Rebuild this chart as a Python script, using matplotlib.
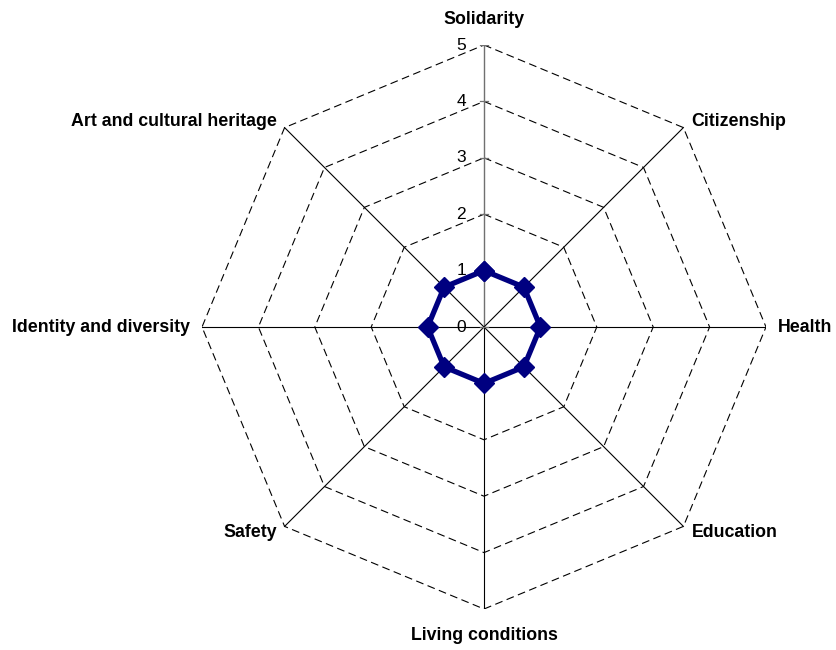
import numpy as np
import matplotlib
matplotlib.use("Agg")
import matplotlib.pyplot as plt

plt.rcParams['font.family'] = ['Liberation Sans', 'DejaVu Sans']

# 8개 항목, 값은 모두 1
categories = ['Solidarity', 'Citizenship', 'Health', 'Education', 'Living conditions',
              'Safety', 'Identity and diversity', 'Art and cultural heritage']
values = [1, 1, 1, 1, 1, 1, 1, 1]
levels = [0, 1, 2, 3, 4, 5]
rmax = 5

fig = plt.figure(figsize=(8.37, 6.5), dpi=100)
W, H = 837, 650
cx, cy, R = 484, 327, 282  # 중심과 반지름(픽셀)
ax = fig.add_axes([(cx - R) / W, (H - cy - R) / H, 2 * R / W, 2 * R / H])
ax.set_xlim(-rmax, rmax)
ax.set_ylim(-rmax, rmax)
ax.axis('off')

n = len(categories)
ang = np.arange(n) * 2 * np.pi / n  # 위쪽부터 시계방향
sx, sy = np.sin(ang), np.cos(ang)

# 점선 다각형 격자
for lv in levels[1:]:
    px = np.append(sx * lv, sx[0] * lv)
    py = np.append(sy * lv, sy[0] * lv)
    ax.plot(px, py, color='black', lw=0.8, ls=(0, (7, 4)), zorder=1)

# 축선
for i in range(n):
    col = '#707070' if i == 0 else 'black'
    ax.plot([0, sx[i] * rmax], [0, sy[i] * rmax], color=col, lw=1.0 if i == 0 else 0.8, zorder=2)

# 세로축 눈금과 라벨
u = rmax / R
for lv in levels:
    ax.plot([-4 * u, 4 * u], [lv, lv], color='#707070', lw=0.9, zorder=2)
    ax.text(-18 * u, lv, str(lv), ha='right', va='center', fontsize=12.5)

# 데이터
vx = np.append(sx * values, sx[0] * values[0])
vy = np.append(sy * values, sy[0] * values[0])
ax.plot(vx, vy, color='#000080', lw=3.8, marker='D', markersize=10.5, zorder=5)

# 항목 라벨
for i, name in enumerate(categories):
    x, y = sx[i] * rmax, sy[i] * rmax
    if abs(sx[i]) < 0.1:
        ha, off = 'center', (0, 25 if sy[i] > 0 else -27)
    elif abs(sy[i]) < 0.1:
        ha, off = ('left' if sx[i] > 0 else 'right'), (12 if sx[i] > 0 else -12, 0)
    else:
        ha = 'left' if sx[i] > 0 else 'right'
        off = (8 if sx[i] > 0 else -8, 6 if sy[i] > 0 else -6)
    ax.annotate(name, (x, y), xytext=(off[0] * 0.72, off[1] * 0.72), textcoords='offset points',
                ha=ha, va='center', fontsize=12.8, fontweight='bold', annotation_clip=False)

fig.savefig('out.png', dpi=100)
